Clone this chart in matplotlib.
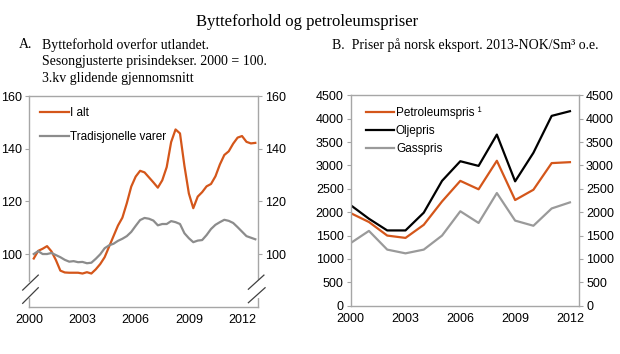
import numpy as np
import matplotlib
matplotlib.use("Agg")
import matplotlib.pyplot as plt

# ── data ──────────────────────────────────────────────
# Panel A: quarterly, 2000Q2 .. 2012Q4
quarters = 2000.25 + 0.25 * np.arange(51)
i_alt = [98.3, 101.2, 102.0, 103.0, 101.0, 97.7, 93.7, 93.0, 92.9, 92.9,
         92.9, 92.6, 93.1, 92.6, 94.2, 96.2, 98.8, 102.8, 106.8, 110.8,
         113.8, 119.3, 125.6, 129.4, 131.6, 131.0, 129.1, 127.2, 125.2, 128.0,
         133.0, 142.5, 147.3, 145.8, 133.5, 123.0, 117.4, 121.8, 123.5, 125.7,
         126.6, 129.5, 134.0, 137.6, 139.0, 141.9, 144.2, 144.8, 142.6, 142.0,
         142.2]
trad_varer = [100.0, 101.1, 100.0, 100.0, 100.4, 99.6, 98.8, 97.8, 97.1, 97.3,
              96.9, 97.0, 96.5, 96.7, 98.2, 99.9, 102.2, 103.3, 103.9, 105.0,
              105.8, 106.8, 108.4, 110.7, 112.9, 113.7, 113.4, 112.7, 110.9, 111.4,
              111.4, 112.5, 112.1, 111.4, 107.9, 106.0, 104.5, 105.1, 105.3, 107.2,
              109.5, 111.1, 112.1, 113.0, 112.6, 111.8, 110.2, 108.5, 106.8, 106.2,
              105.6]

# Panel B: annual, 2000 .. 2012
years = np.arange(2000, 2013)
petroleumspris = [1980, 1790, 1500, 1450, 1730, 2230, 2670, 2490, 3100, 2260, 2480, 3050, 3070]
oljepris = [2150, 1860, 1610, 1610, 1990, 2670, 3090, 2990, 3660, 2660, 3270, 4060, 4160]
gasspris = [1340, 1600, 1200, 1120, 1200, 1500, 2020, 1770, 2410, 1820, 1710, 2080, 2210]

xticks = [2000, 2003, 2006, 2009, 2012]

ORANGE = "#D4561A"
GRAY = "#8C8C8C"
LGRAY = "#9A9A9A"
SPINE = "#A6A6A6"

plt.rcParams["font.family"] = ["Liberation Sans", "DejaVu Sans"]
SERIF = ["Liberation Serif", "DejaVu Serif"]

fig = plt.figure(figsize=(6.2, 3.54), dpi=100)
axA = fig.add_axes([0.0473, 0.1336, 0.3688, 0.5952])
axB = fig.add_axes([0.5656, 0.1364, 0.3684, 0.5944])

fig.text(0.496, 0.937, "Bytteforhold og petroleumspriser", ha="center", va="center",
         fontsize=12, family=SERIF)
fig.text(0.03, 0.873, "A.", ha="left", va="center", fontsize=10, family=SERIF)
for k, line in enumerate(["Bytteforhold overfor utlandet.",
                          "Sesongjusterte prisindekser. 2000 = 100.",
                          "3.kv glidende gjennomsnitt"]):
    fig.text(0.068, 0.873 - k * 0.048, line, ha="left", va="center", fontsize=10, family=SERIF)
fig.text(0.535, 0.873, "B.  Priser på norsk eksport. 2013-NOK/Sm³ o.e.", ha="left",
         va="center", fontsize=10, family=SERIF)

for ax in (axA, axB):
    for s in ax.spines.values():
        s.set_color(SPINE)
        s.set_linewidth(1.0)
    ax.tick_params(axis="y", direction="out", length=3, color=SPINE, labelsize=9,
                   right=True, labelright=True, pad=2)
    ax.tick_params(axis="x", direction="out", length=0, labelsize=9, pad=5)
    ax.set_xticks(xticks)

# ── A ──
axA.plot(quarters, i_alt, color=ORANGE, lw=1.6, label="I alt")
axA.plot(quarters, trad_varer, color=GRAY, lw=1.6, label="Tradisjonelle varer")
axA.set_xlim(2000, 2012.9)
axA.set_ylim(80, 160)
axA.set_yticks([100, 120, 140, 160])
axA.legend(loc="upper left", frameon=False, fontsize=8.5, handlelength=2.4,
           handletextpad=0.15, labelspacing=0.95, borderaxespad=0.3,
           bbox_to_anchor=(0.012, 0.985))

# axis break marks
tr = axA.transAxes
axA.plot([0, 0], [0.05, 0.107], color="white", lw=3, transform=tr, clip_on=False, zorder=5)
axA.plot([1, 1], [0.05, 0.115], color="white", lw=3, transform=tr, clip_on=False, zorder=5)
for (x0, y0, x1, y1) in [(-0.029, 0.079, 0.039, 0.150), (-0.029, 0.016, 0.039, 0.090),
                         (0.958, 0.083, 1.026, 0.150), (0.958, 0.019, 1.031, 0.090)]:
    axA.plot([x0, x1], [y0, y1], color="#404040", lw=0.9, transform=tr, clip_on=False, zorder=6)

# ── B ──
axB.plot(years, petroleumspris, color=ORANGE, lw=1.6, label="Petroleumspris ¹")
axB.plot(years, oljepris, color="black", lw=1.6, label="Oljepris")
axB.plot(years, gasspris, color=LGRAY, lw=1.6, label="Gasspris")
axB.set_xlim(2000, 2012.5)
axB.set_ylim(0, 4500)
axB.set_yticks(np.arange(0, 4501, 500))
axB.legend(loc="upper left", frameon=False, fontsize=8.5, handlelength=2.4,
           handletextpad=0.15, labelspacing=0.5, borderaxespad=0.3,
           bbox_to_anchor=(0.03, 0.985))

fig.savefig("out.png", dpi=100)
